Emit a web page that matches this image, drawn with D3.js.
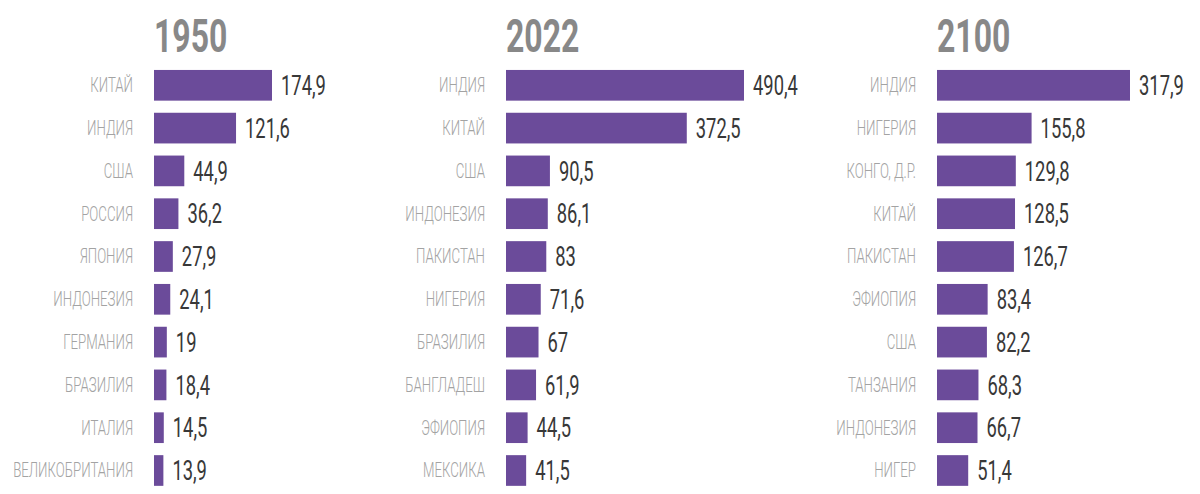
<!DOCTYPE html>
<html lang="ru">
<head>
<meta charset="utf-8">
<script src="https://cdn.jsdelivr.net/npm/d3@7"></script>
<style>
  html, body { margin: 0; padding: 0; background: #fff; }
  svg { display: block; }
</style>
</head>
<body>
<svg id="chart" width="1200" height="494"></svg>
<script>
// Population figures (millions) by year: top ten countries for each year
const years = ["1950", "2022", "2100"];

const countries1950 = ["КИТАЙ", "ИНДИЯ", "США", "РОССИЯ", "ЯПОНИЯ", "ИНДОНЕЗИЯ", "ГЕРМАНИЯ", "БРАЗИЛИЯ", "ИТАЛИЯ", "ВЕЛИКОБРИТАНИЯ"];
const values1950 = [174.9, 121.6, 44.9, 36.2, 27.9, 24.1, 19, 18.4, 14.5, 13.9];

const countries2022 = ["ИНДИЯ", "КИТАЙ", "США", "ИНДОНЕЗИЯ", "ПАКИСТАН", "НИГЕРИЯ", "БРАЗИЛИЯ", "БАНГЛАДЕШ", "ЭФИОПИЯ", "МЕКСИКА"];
const values2022 = [490.4, 372.5, 90.5, 86.1, 83, 71.6, 67, 61.9, 44.5, 41.5];

const countries2100 = ["ИНДИЯ", "НИГЕРИЯ", "КОНГО, Д.Р.", "КИТАЙ", "ПАКИСТАН", "ЭФИОПИЯ", "США", "ТАНЗАНИЯ", "ИНДОНЕЗИЯ", "НИГЕР"];
const values2100 = [317.9, 155.8, 129.8, 128.5, 126.7, 83.4, 82.2, 68.3, 66.7, 51.4];

// Layout of the three panels: left edge of bars and length of the longest bar
const panelLayout = [
  { x0: 154, maxLen: 118 },
  { x0: 506, maxLen: 238 },
  { x0: 937, maxLen: 193 }
];

const panels = [
  { year: years[0], names: countries1950, values: values1950 },
  { year: years[1], names: countries2022, values: values2022 },
  { year: years[2], names: countries2100, values: values2100 }
];

const BAR_COLOR = "#6b4b9a";
const FONT = "Roboto, 'Liberation Sans', sans-serif";
const fmt = v => String(v).replace(".", ",");

const svg = d3.select("#chart");

// Shared vertical band scale for the ten rows
const y = d3.scaleBand()
  .domain(d3.range(10))
  .range([63.9, 491.9])
  .paddingInner(0.283)
  .paddingOuter(0.1415);

// Condensed text: draw with a horizontal squeeze around the anchor point
function squeezed(g, x, yPos, sx) {
  return g.append("text")
    .attr("transform", `translate(${x},${yPos}) scale(${sx},1)`)
    .attr("font-family", FONT);
}

panels.forEach((p, i) => {
  const lay = panelLayout[i];
  const x = d3.scaleLinear()
    .domain([0, d3.max(p.values)])
    .range([0, lay.maxLen]);

  const g = svg.append("g").attr("class", "panel");

  // Year heading
  squeezed(g, lay.x0, 52, 0.68)
    .attr("font-size", 47)
    .attr("font-weight", 700)
    .attr("fill", "#888888")
    .text(p.year);

  const rows = g.selectAll("g.row")
    .data(p.values.map((v, k) => ({ v, name: p.names[k], k })))
    .join("g")
    .attr("class", "row");

  rows.append("rect")
    .attr("x", lay.x0)
    .attr("y", d => y(d.k))
    .attr("width", d => x(d.v))
    .attr("height", y.bandwidth())
    .attr("fill", BAR_COLOR);

  rows.each(function (d) {
    const row = d3.select(this);
    const cy = y(d.k) + y.bandwidth() / 2;

    // Country name, right-aligned before the bar
    squeezed(row, lay.x0 - 21, cy + 6.8, 0.68)
      .attr("font-size", 19.5)
      .attr("font-weight", 300)
      .attr("fill", "#a3a3a3")
      .attr("text-anchor", "end")
      .text(d.name);

    // Value after the bar end
    squeezed(row, lay.x0 + x(d.v) + 9, cy + 9.6, 0.68)
      .attr("font-size", 27)
      .attr("font-weight", 400)
      .attr("fill", "#383838")
      .text(fmt(d.v));
  });
});
</script>
</body>
</html>
